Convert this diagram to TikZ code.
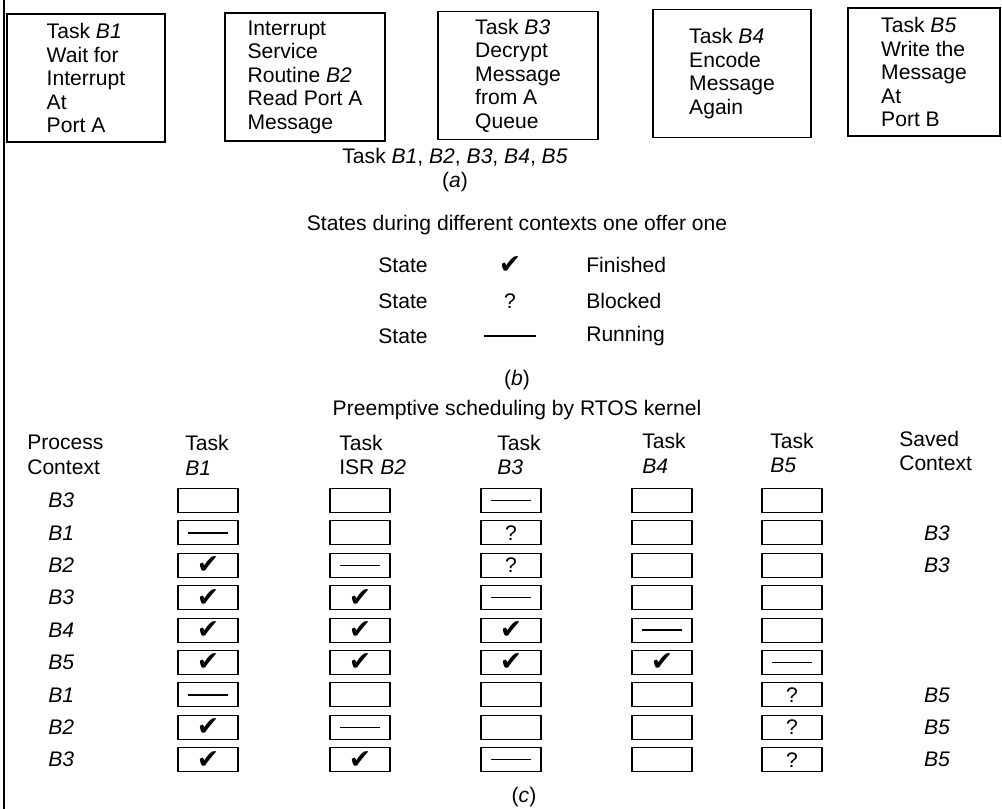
\documentclass[tikz,border=0pt]{standalone}
\usepackage{fontspec}
\setmainfont{Liberation Sans}
\newfontfamily\symfont{DejaVu Sans}
\newcommand{\stateF}{{\symfont\fontsize{19}{19}\selectfont ✔}}
\newcommand{\stateB}{?}
\newcommand{\stateR}{\rule{1cm}{1pt}}
\newcommand{\stateN}{}

\begin{document}
\begin{tikzpicture}[x=0.025cm,y=-0.025cm,
  every node/.style={font=\fontsize{15}{16.7}\selectfont, inner sep=0pt},
  taskbox/.style={draw, line width=0.8pt, minimum width=3.95cm, minimum height=3.2cm, align=left},
  cell/.style={draw, line width=0.8pt, minimum width=1.5cm, minimum height=0.6cm},
  head/.style={anchor=west, align=left, font=\fontsize{15}{17.7}\selectfont}]
\useasboundingbox (0,0) rectangle (1002,809);
\draw[line width=1.2pt] (4,0) -- (4,809);

\node[taskbox] (tb1) at (86,78) {Task \textit{B1}\\Wait for\\Interrupt\\At\\Port A};
\node[taskbox, minimum width=4cm] (tb2) at (305,77) {Interrupt\\Service\\Routine \textit{B2}\\Read Port A\\Message};
\node[taskbox, minimum width=4cm] (tb3) at (518,75.5) {Task \textit{B3}\\Decrypt\\Message\\from A\\Queue};
\node[taskbox] (tb4) at (732,73.5) {Task \textit{B4}\\Encode\\Message\\Again};
\node[taskbox, minimum width=3.8cm] (tb5) at (924,72) {Task \textit{B5}\\Write the\\Message\\At\\Port B};

\node (capa) at (455,157) {Task \textit{B1}, \textit{B2}, \textit{B3}, \textit{B4}, \textit{B5}};
\node (a) at (455,182) {(\textit{a})};
\node (sttl) at (517,225) {States during different contexts one offer one};
\foreach \r/\y/\s/\t in {1/265/\stateF/Finished, 2/301/\stateB/Blocked, 3/336/{\rule{1.275cm}{0.8pt}}/Running} {
  \node (ls\r) at (403,\y) {State};
  \node (lm\r) at (510,\y) {\s};
  \node[anchor=west] (lt\r) at (586,\y) {\t};
}
\node (b) at (517,380) {(\textit{b})};

\node (pttl) at (517,410) {Preemptive scheduling by RTOS kernel};
\node[head] (hp) at (27,455) {Process\\Context};
\node[head] (h1) at (185,455) {Task\\\textit{B1}};
\node[head] (h2) at (339,455) {Task\\ISR \textit{B2}};
\node[head] (h3) at (497,455) {Task\\\textit{B3}};
\node[head] (h4) at (642,453) {Task\\\textit{B4}};
\node[head] (h5) at (770,453) {Task\\\textit{B5}};
\node[head] (hs) at (899,451) {Saved\\Context};

\foreach \r/\lab/\ca/\cb/\cc/\cd/\ce in {1/B3/N/N/R/N/N, 2/B1/R/N/B/N/N, 3/B2/F/R/B/N/N,
    4/B3/F/F/R/N/N, 5/B4/F/F/F/R/N, 6/B5/F/F/F/F/R, 7/B1/R/N/N/N/B, 8/B2/F/R/N/N/B, 9/B3/F/F/R/N/B} {
  \pgfmathsetmacro\y{500.5+32.4*(\r-1)}
  \node[anchor=west] (p\r) at (48,\y) {\textit{\lab}};
  \foreach \k/\x/\s in {1/208/\ca, 2/360/\cb, 3/511/\cc, 4/662/\cd, 5/792/\ce}
    \node[cell] (c\r-\k) at (\x,\y) {\csname state\s\endcsname};
}
\foreach \r/\lab in {2/B3, 3/B3, 7/B5, 8/B5, 9/B5} {
  \pgfmathsetmacro\y{500.5+32.4*(\r-1)}
  \node (s\r) at (937,\y) {\textit{\lab}};
}
\node (c) at (524,797) {(\textit{c})};
\end{tikzpicture}
\end{document}
